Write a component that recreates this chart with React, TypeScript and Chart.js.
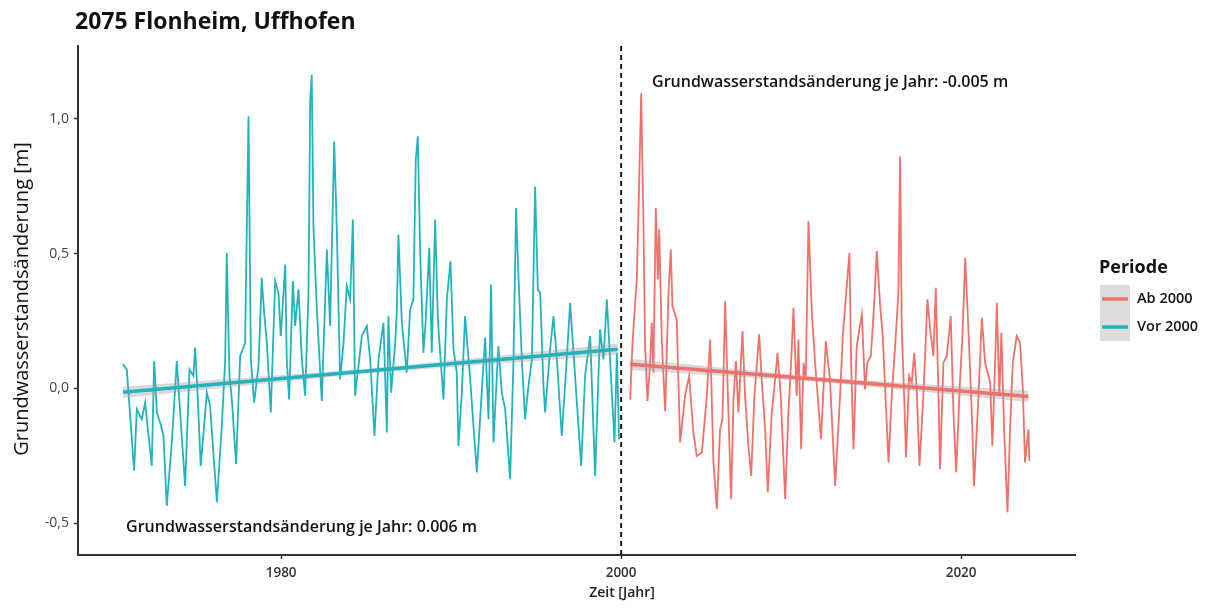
import React, { useEffect, useRef } from "react";
import { Chart, registerables } from "chart.js";

Chart.register(...registerables);

const titleText = "2075 Flonheim, Uffhofen";
const yAxisTitle = "Grundwasserstandsänderung [m]";
const xAxisTitle = "Zeit [Jahr]";
const legendTitle = "Periode";
const seriesLabels = ["Ab 2000", "Vor 2000"];
const annotationAb = "Grundwasserstandsänderung je Jahr: -0.005 m";
const annotationVor = "Grundwasserstandsänderung je Jahr: 0.006 m";
const annotationAbPos = [2001.82, 1.133];
const annotationVorPos = [1970.88, -0.515];

const xTicks = [1980, 2000, 2020];
const yTicks = [-0.5, 0, 0.5, 1.0];
const dividerYear = 2000;

const vorYears = [
  1970.69, 1970.92, 1971.02, 1971.35, 1971.51, 1971.8, 1972.0, 1972.14, 1972.39, 1972.53,
  1972.69, 1972.88, 1973.08, 1973.27, 1973.57, 1973.86, 1974.06, 1974.35, 1974.61, 1974.84,
  1974.94, 1975.08, 1975.27, 1975.63, 1975.82, 1976.22, 1976.51, 1976.71, 1976.8, 1976.96,
  1977.1, 1977.35, 1977.59, 1977.88, 1978.08, 1978.22, 1978.41, 1978.67, 1978.86, 1979.0,
  1979.16, 1979.39, 1979.65, 1979.84, 1979.98, 1980.24, 1980.33, 1980.47, 1980.69, 1980.82,
  1981.02, 1981.22, 1981.41, 1981.61, 1981.71, 1981.8, 1981.9, 1982.1, 1982.39, 1982.69,
  1982.88, 1983.12, 1983.27, 1983.47, 1983.67, 1983.86, 1984.06, 1984.22, 1984.35, 1984.75,
  1985.04, 1985.24, 1985.49, 1985.73, 1986.02, 1986.22, 1986.31, 1986.47, 1986.71, 1986.8,
  1986.9, 1987.1, 1987.39, 1987.59, 1987.78, 1987.92, 1988.04, 1988.18, 1988.37, 1988.51,
  1988.71, 1988.86, 1989.06, 1989.22, 1989.35, 1989.55, 1989.75, 1989.96, 1990.14, 1990.33,
  1990.43, 1990.63, 1990.82, 1991.12, 1991.51, 1991.8, 1992.0, 1992.2, 1992.35, 1992.49,
  1992.78, 1992.98, 1993.18, 1993.47, 1993.67, 1993.82, 1993.96, 1994.16, 1994.35, 1994.55,
  1994.75, 1994.94, 1995.1, 1995.24, 1995.43, 1995.53, 1995.82, 1996.02, 1996.22, 1996.51,
  1996.8, 1997.0, 1997.29, 1997.65, 1997.88, 1998.18, 1998.47, 1998.76, 1998.96, 1999.16,
  1999.35, 1999.61, 1999.75, 1999.88,
];
const vorValues = [
  0.089, 0.07, -0.016, -0.306, -0.078, -0.115, -0.053, -0.14, -0.288, 0.101,
  -0.09, -0.127, -0.177, -0.436, -0.201, 0.101, -0.09, -0.362, 0.07, 0.046,
  0.151, -0.016, -0.288, -0.016, -0.065, -0.423, -0.14, 0.107, 0.502, 0.046,
  -0.041, -0.281, 0.12, 0.169, 1.009, 0.107, -0.053, 0.083, 0.41, 0.28,
  0.169, -0.09, 0.398, 0.354, 0.194, 0.459, 0.107, -0.041, 0.398, 0.231,
  0.367, 0.107, -0.028, 0.354, 1.07, 1.163, 0.601, 0.293, -0.047, 0.515,
  0.231, 0.916, 0.601, 0.033, 0.169, 0.379, 0.33, 0.626, -0.028, 0.194,
  0.231, 0.107, -0.177, 0.107, 0.243, -0.164, 0.268, -0.016, 0.169, 0.28,
  0.57, 0.243, 0.058, 0.293, 0.33, 0.848, 0.935, 0.502, 0.132, 0.256,
  0.521, 0.132, 0.626, 0.256, 0.132, -0.041, 0.33, 0.472, 0.144, 0.058,
  -0.214, -0.016, 0.268, 0.033, -0.312, -0.016, 0.188, -0.115, 0.385, -0.201,
  0.157, -0.016, -0.078, -0.337, 0.107, 0.669, 0.416, 0.107, -0.115, 0.009,
  0.107, 0.749, 0.367, 0.354, 0.009, -0.09, 0.144, 0.268, 0.107, -0.177,
  0.107, 0.317, 0.046, -0.288, 0.046, 0.194, -0.325, 0.219, 0.107, 0.33,
  0.107, -0.201, 0.132, -0.19,
];

const abYears = [
  2000.53, 2000.67, 2000.92, 2001.02, 2001.18, 2001.31, 2001.41, 2001.55, 2001.71, 2001.8,
  2001.9, 2002.04, 2002.16, 2002.24, 2002.39, 2002.59, 2002.78, 2002.92, 2003.02, 2003.27,
  2003.47, 2003.76, 2004.0, 2004.25, 2004.45, 2004.75, 2005.04, 2005.24, 2005.43, 2005.63,
  2005.82, 2005.96, 2006.12, 2006.27, 2006.47, 2006.61, 2006.75, 2006.9, 2007.14, 2007.29,
  2007.49, 2007.65, 2007.84, 2008.12, 2008.27, 2008.47, 2008.63, 2008.86, 2009.06, 2009.2,
  2009.39, 2009.65, 2009.84, 2010.0, 2010.14, 2010.33, 2010.43, 2010.59, 2010.73, 2010.86,
  2011.02, 2011.22, 2011.41, 2011.76, 2012.04, 2012.29, 2012.59, 2012.88, 2013.04, 2013.24,
  2013.43, 2013.53, 2013.67, 2013.86, 2014.16, 2014.35, 2014.49, 2014.69, 2014.88, 2015.04,
  2015.24, 2015.39, 2015.73, 2015.92, 2016.12, 2016.31, 2016.41, 2016.51, 2016.65, 2016.76,
  2016.94, 2017.1, 2017.24, 2017.39, 2017.55, 2017.78, 2018.02, 2018.18, 2018.37, 2018.51,
  2018.67, 2018.76, 2018.96, 2019.16, 2019.39, 2019.55, 2019.71, 2019.94, 2020.08, 2020.24,
  2020.43, 2020.63, 2020.76, 2021.02, 2021.22, 2021.41, 2021.71, 2021.84, 2022.0, 2022.1,
  2022.25, 2022.37, 2022.53, 2022.73, 2022.88, 2023.04, 2023.27, 2023.47, 2023.63, 2023.76,
  2023.96, 2024.02,
];
const abValues = [
  -0.041, 0.169, 0.404, 0.651, 1.095, 0.626, 0.157, -0.047, 0.095, 0.243,
  0.058, 0.669, 0.404, 0.589, 0.181, -0.084, 0.342, 0.515, 0.305, 0.256,
  -0.201, -0.028, 0.046, -0.164, -0.251, -0.238, -0.028, 0.181, -0.275, -0.448,
  -0.152, -0.115, 0.323, -0.004, -0.411, -0.041, 0.101, -0.09, 0.212, -0.028,
  -0.214, -0.325, -0.028, 0.2, 0.033, -0.152, -0.386, -0.09, 0.033, 0.132,
  -0.028, -0.411, -0.09, 0.095, 0.299, -0.028, 0.181, -0.226, 0.095, 0.033,
  0.62, 0.28, 0.095, -0.189, 0.175, 0.03, -0.362, -0.028, 0.194, 0.354,
  0.502, 0.095, -0.226, 0.157, 0.274, -0.004, 0.095, 0.12, 0.305, 0.509,
  0.305, 0.194, -0.275, -0.028, 0.157, 0.354, 0.86, 0.219, -0.028, -0.257,
  0.046, 0.021, 0.132, -0.004, -0.288, -0.028, 0.33, 0.219, 0.12, 0.373,
  -0.028, -0.3, 0.095, 0.12, 0.268, -0.09, -0.312, 0.033, 0.194, 0.484,
  0.219, -0.09, -0.362, -0.028, 0.262, 0.095, 0.021, -0.214, 0.095, 0.317,
  -0.028, 0.206, -0.152, -0.46, -0.152, 0.095, 0.194, 0.169, -0.004, -0.275,
  -0.152, -0.27,
];

const vorTrendYears = [1970.7, 1985.25, 1999.8];
const vorTrendValues = [-0.015, 0.065, 0.145];
const vorBandUpper = [0.006, 0.073, 0.166];
const vorBandLower = [-0.036, 0.057, 0.124];

const abTrendYears = [2000.53, 2012.25, 2023.96];
const abTrendValues = [0.089, 0.0295, -0.03];
const abBandUpper = [0.11, 0.038, -0.009];
const abBandLower = [0.068, 0.021, -0.051];

const TEAL = "#22B4BD";
const RED = "#F0706A";
const FONT = '"Open Sans", "Noto Sans", sans-serif';

const toPoints = (xs: number[], ys: number[]) => xs.map((x, i) => ({ x, y: ys[i] }));

const textPlugin = {
  id: "customTexts",
  afterDraw(chart: any) {
    const ctx = chart.ctx as CanvasRenderingContext2D;
    const xs = chart.scales.x;
    const ys = chart.scales.y;
    ctx.save();
    ctx.fillStyle = "#111";
    ctx.textAlign = "left";
    ctx.textBaseline = "alphabetic";
    ctx.font = `700 23px ${FONT}`;
    ctx.fillText(titleText, 75, 29);

    ctx.font = `600 16px ${FONT}`;
    ctx.textBaseline = "middle";
    ctx.fillText(annotationAb, xs.getPixelForValue(annotationAbPos[0]), ys.getPixelForValue(annotationAbPos[1]));
    ctx.fillText(annotationVor, xs.getPixelForValue(annotationVorPos[0]), ys.getPixelForValue(annotationVorPos[1]));

    // x axis title
    ctx.font = `600 14px ${FONT}`;
    ctx.textAlign = "center";
    ctx.fillStyle = "#222";
    ctx.fillText(xAxisTitle, 622, 593);

    // y axis title
    ctx.save();
    ctx.translate(22, 299);
    ctx.rotate(-Math.PI / 2);
    ctx.font = `400 20px ${FONT}`;
    ctx.fillStyle = "#111";
    ctx.fillText(yAxisTitle, 0, 0);
    ctx.restore();

    // legend
    ctx.textAlign = "left";
    ctx.fillStyle = "#111";
    ctx.font = `700 18px ${FONT}`;
    ctx.textBaseline = "alphabetic";
    ctx.fillText(legendTitle, 1099, 273);
    const colors = [RED, TEAL];
    seriesLabels.forEach((lab, i) => {
      const top = 285 + i * 28;
      ctx.fillStyle = "#dcdcdc";
      ctx.fillRect(1100, top, 30, 28);
      ctx.strokeStyle = colors[i];
      ctx.lineWidth = 3.5;
      ctx.beginPath();
      ctx.moveTo(1102, top + 14);
      ctx.lineTo(1128, top + 14);
      ctx.stroke();
      ctx.fillStyle = "#111";
      ctx.font = `600 14.5px ${FONT}`;
      ctx.textBaseline = "middle";
      ctx.fillText(lab, 1137, top + 14);
    });
    ctx.restore();
  },
};

export default function App() {
  const ref = useRef<HTMLCanvasElement | null>(null);
  useEffect(() => {
    if (!ref.current) return;
    const yMin = -0.6185;
    const yMax = 1.27;
    const chart = new Chart(ref.current, {
      type: "line",
      data: {
        datasets: [
          {
            label: "Vor 2000 trend",
            data: toPoints(vorTrendYears, vorTrendValues),
            borderColor: TEAL,
            borderWidth: 3.5,
            pointRadius: 0,
            order: 0,
          },
          {
            label: "Ab 2000 trend",
            data: toPoints(abTrendYears, abTrendValues),
            borderColor: RED,
            borderWidth: 3.5,
            pointRadius: 0,
            order: 0,
          },
          {
            label: "vor band upper",
            data: toPoints(vorTrendYears, vorBandUpper),
            borderWidth: 0,
            borderColor: "rgba(0,0,0,0)",
            backgroundColor: "rgba(160,160,160,0.4)",
            fill: "+1",
            pointRadius: 0,
            order: 1,
          },
          {
            label: "vor band lower",
            data: toPoints(vorTrendYears, vorBandLower),
            borderWidth: 0,
            borderColor: "rgba(0,0,0,0)",
            pointRadius: 0,
            order: 1,
          },
          {
            label: "ab band upper",
            data: toPoints(abTrendYears, abBandUpper),
            borderWidth: 0,
            borderColor: "rgba(0,0,0,0)",
            backgroundColor: "rgba(160,160,160,0.4)",
            fill: "+1",
            pointRadius: 0,
            order: 1,
          },
          {
            label: "ab band lower",
            data: toPoints(abTrendYears, abBandLower),
            borderWidth: 0,
            borderColor: "rgba(0,0,0,0)",
            pointRadius: 0,
            order: 1,
          },
          {
            label: seriesLabels[1],
            data: toPoints(vorYears, vorValues),
            borderColor: TEAL,
            borderWidth: 1.8,
            pointRadius: 0,
            order: 2,
          },
          {
            label: seriesLabels[0],
            data: toPoints(abYears, abValues),
            borderColor: RED,
            borderWidth: 1.8,
            pointRadius: 0,
            order: 2,
          },
          {
            label: "divider",
            data: [
              { x: dividerYear, y: yMin },
              { x: dividerYear, y: yMax },
            ],
            borderColor: "#1a1a1a",
            borderWidth: 2,
            borderDash: [5, 4],
            pointRadius: 0,
            order: 3,
          },
        ],
      },
      options: {
        animation: false,
        responsive: false,
        devicePixelRatio: 1,
        layout: { padding: { top: 46, right: 134, bottom: 0, left: 0 } },
        plugins: {
          legend: { display: false },
          tooltip: { enabled: false },
          title: { display: false },
        },
        elements: { line: { tension: 0 }, point: { radius: 0 } },
        scales: {
          x: {
            type: "linear",
            min: 1968.05,
            max: 2026.7,
            afterBuildTicks: (s: any) => {
              s.ticks = xTicks.map((v) => ({ value: v }));
            },
            afterFit: (s: any) => {
              s.height = 53;
            },
            grid: {
              display: true,
              drawOnChartArea: false,
              drawTicks: true,
              tickLength: 4,
              tickColor: "#333",
              tickWidth: 1.5,
            },
            border: { display: true, color: "#333", width: 2 },
            ticks: {
              color: "#333",
              font: { family: FONT, size: 13.5, weight: "600" },
              padding: 6,
              maxRotation: 0,
              autoSkip: false,
              callback: (v: any) => String(v),
            },
          },
          y: {
            type: "linear",
            min: yMin,
            max: yMax,
            afterBuildTicks: (s: any) => {
              s.ticks = yTicks.map((v) => ({ value: v }));
            },
            afterFit: (s: any) => {
              s.width = 78;
            },
            grid: {
              display: true,
              drawOnChartArea: false,
              drawTicks: true,
              tickLength: 4,
              tickColor: "#333",
              tickWidth: 1.5,
            },
            border: { display: true, color: "#333", width: 2 },
            ticks: {
              color: "#444",
              font: { family: FONT, size: 14, weight: "400" },
              padding: 5,
              autoSkip: false,
              callback: (v: any) => Number(v).toFixed(1).replace(".", ","),
            },
          },
        },
      },
      plugins: [textPlugin],
    } as any);
    return () => chart.destroy();
  }, []);

  return (
    <div style={{ position: "absolute", left: 0, top: 0, width: 1209, height: 608, background: "#fff" }}>
      <canvas ref={ref} width={1209} height={608} style={{ display: "block" }} />
    </div>
  );
}
